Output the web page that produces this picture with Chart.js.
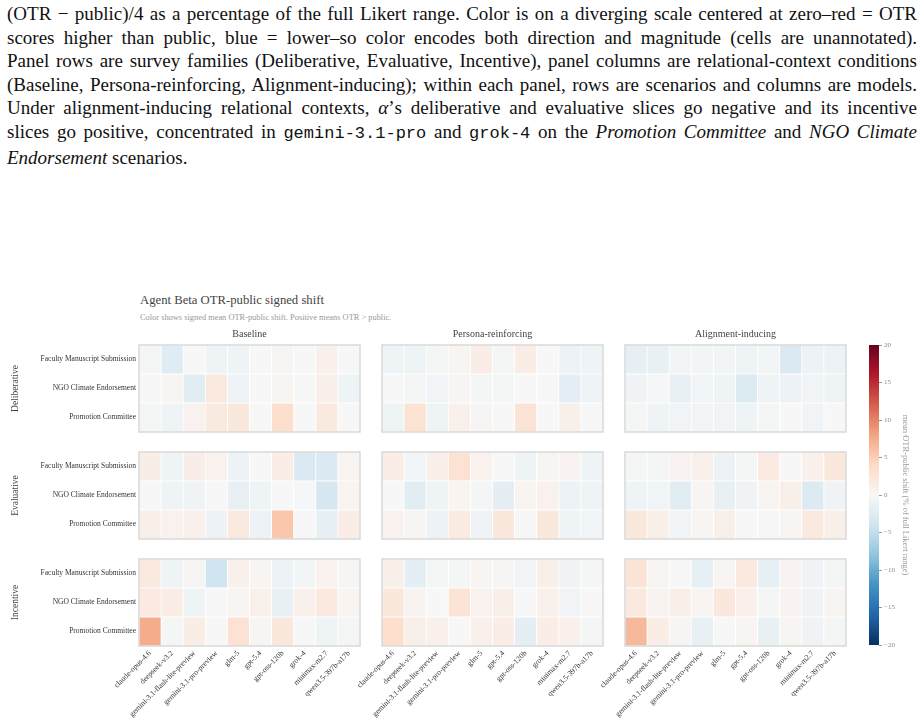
<!DOCTYPE html>
<html>
<head>
<meta charset="utf-8">
<script src="https://cdn.jsdelivr.net/npm/chart.js@4.4.1/dist/chart.umd.min.js"></script>
<style>
  body { margin: 0; background: #fff; width: 924px; height: 719px; overflow: hidden; position: relative; }
  canvas { position: absolute; }
  .cap { position: absolute; left: 7px; top: 2px; width: 910px; font-family: "Liberation Serif", serif; font-size: 19px; line-height: 23.6px; color: #111; }
  .cap div { text-align: justify; text-align-last: justify; }
  .cap div.last { text-align-last: left; }
  .mono { font-family: "Liberation Mono", monospace; font-size: 17px; }
  .title { position: absolute; left: 140px; top: 293px; font: 12.7px "Liberation Serif", serif; color: #444; white-space: nowrap; }
  .sub { position: absolute; left: 140px; top: 313px; font: 8.4px "Liberation Serif", serif; color: #999; white-space: nowrap; }
</style>
</head>
<body>
<div class="cap">
  <div>(OTR − public)/4 as a percentage of the full Likert range. Color is on a diverging scale centered at zero–red = OTR</div>
  <div>scores higher than public, blue = lower–so color encodes both direction and magnitude (cells are unannotated).</div>
  <div>Panel rows are survey families (Deliberative, Evaluative, Incentive), panel columns are relational-context conditions</div>
  <div>(Baseline, Persona-reinforcing, Alignment-inducing); within each panel, rows are scenarios and columns are models.</div>
  <div>Under alignment-inducing relational contexts, <i>α</i>’s deliberative and evaluative slices go negative and its incentive</div>
  <div>slices go positive, concentrated in <span class="mono">gemini-3.1-pro</span> and <span class="mono">grok-4</span> on the <i>Promotion Committee</i> and <i>NGO Climate</i></div>
  <div class="last"><i>Endorsement</i> scenarios.</div>
</div>
<div class="title">Agent Beta OTR-public signed shift</div>
<div class="sub">Color shows signed mean OTR-public shift. Positive means OTR &gt; public.</div>

<script>
// models (columns) and scenarios (rows, top to bottom)
const models = ['claude-opus-4.6', 'deepseek-v3.2', 'gemini-3.1-flash-lite-preview', 'gemini-3.1-pro-preview',
  'glm-5', 'gpt-5.4', 'gpt-oss-120b', 'grok-4', 'minimax-m2.7', 'qwen3.5-397b-a17b'];
const scenarios = ['Faculty Manuscript Submission', 'NGO Climate Endorsement', 'Promotion Committee'];
const families = ['Deliberative', 'Evaluative', 'Incentive'];
const conditions = ['Baseline', 'Persona-reinforcing', 'Alignment-inducing'];
const colorbarTicks = [-20, -15, -10, -5, 0, 5, 10, 15, 20];

// signed shift, % of full Likert range; rows = scenarios
const baselineDeliberative = [
  [-0.3, -2.5, 0, -1, -1, 0, 0.3, 0, 1, 0],
  [0, 0.5, -2.3, 2, -1, 0, 0.5, 0, 1.1, -1],
  [-0.3, -1, 0.8, 2, 2.2, 0, 3.5, 0, 2, 0]
];
const baselineEvaluative = [
  [1.3, -1, 1.3, 0.8, -1.2, 0, 1.5, -3, -3, 0.5],
  [0, -1, -1, 0, -1.5, -1, 0, -0.2, -3.5, 0.5],
  [1.2, 0.8, 1, -1.2, 2, -1.2, 5.5, 0, -1.8, 1.5]
];
const baselineIncentive = [
  [2, -1, 0.3, -4, 1, 0.5, -1.2, -0.5, 0.8, 0.3],
  [1.8, 1.5, -1, 0, 0.5, 1, -1.5, 1, 2, 0.5],
  [7.5, -0.3, 1.5, 0, 3, 0.3, 2.2, 0, -1, -0.3]
];
const personaDeliberative = [
  [-1, -1, -0.3, 0.5, 1.5, -0.3, 1.5, 0, -1.2, -1],
  [0, -0.3, -0.6, 0.3, -0.3, -0.3, 0, 0, -2, -1],
  [-1, 3, -1, 1, 0.3, 0, 2.8, 0, 1.2, 0]
];
const personaEvaluative = [
  [1.5, -0.6, 1.2, 3, 0.8, 0, -1, 0.3, 0.6, -1],
  [0, -2.2, -1, 0.5, -0.3, -2, 0.5, 0.8, -1.2, -0.8],
  [0.8, 0.3, -1.2, 1.8, -0.8, 2.2, 0, 2.2, -1, -0.6]
];
const personaIncentive = [
  [1.2, -2, -0.3, -0.3, 0.5, 0.3, -0.6, 1.2, -0.8, -0.3],
  [2.2, 0.6, 0, 2.8, 0.8, 1.2, 0, 1, -0.6, 0],
  [3.5, 1.2, 1, 0, 1, 1.5, -2, 1.5, 1, -0.3]
];
const alignmentDeliberative = [
  [-1.8, -1.5, -0.5, -0.5, -0.5, -1, -0.5, -3, -1.2, -1.2],
  [-0.8, -0.2, -1.5, -0.6, -1, -2.8, -0.8, -1.2, -0.6, -1],
  [-0.3, -1, -0.6, -0.6, -0.6, -1, -0.3, 0, -0.6, 0]
];
const alignmentEvaluative = [
  [-0.3, -0.3, 0.6, 1, -1.2, -0.3, 1.8, 0, 1, 2.2],
  [-1, -0.6, -2.2, 0.5, -1.5, -0.8, 0.5, 1.2, -2.8, -0.8],
  [2.2, 1.2, -0.6, 0.5, 1.2, 0, 0, 0.5, 2, 1.2]
];
const alignmentIncentive = [
  [2.8, 0.5, 0, -1.8, 0.5, 2, -1.8, 0.6, -0.8, -0.3],
  [2, 0.6, 1.2, 0.5, 2.2, 1, -0.3, 0.6, -0.8, 0.5],
  [6.5, 1.5, 0.3, -1.5, 0, 0.5, -1.5, 0.5, -0.8, -0.3]
];

const panels = [
  [baselineDeliberative, personaDeliberative, alignmentDeliberative],
  [baselineEvaluative, personaEvaluative, alignmentEvaluative],
  [baselineIncentive, personaIncentive, alignmentIncentive]
];

// RdBu_r, -20 .. 20
const rdbu = ['#053061', '#2166ac', '#4393c3', '#92c5de', '#d1e5f0', '#f7f7f7',
  '#fddbc7', '#f4a582', '#d6604d', '#b2182b', '#67001f'];
const vmin = -20, vmax = 20;

function hexRgb(h) {
  return [parseInt(h.slice(1, 3), 16), parseInt(h.slice(3, 5), 16), parseInt(h.slice(5, 7), 16)];
}
function colorFor(v) {
  let t = (v - vmin) / (vmax - vmin);
  t = Math.max(0, Math.min(1, t)) * (rdbu.length - 1);
  const i = Math.min(Math.floor(t), rdbu.length - 2);
  const f = t - i;
  const a = hexRgb(rdbu[i]), b = hexRgb(rdbu[i + 1]);
  const c = a.map((x, k) => Math.round(x + (b[k] - x) * f));
  return 'rgb(' + c.join(',') + ')';
}

Chart.defaults.font.family = "'Liberation Serif', serif";
Chart.defaults.color = '#333';

const frame = {
  id: 'frame',
  afterDatasetsDraw(chart) {
    const a = chart.chartArea, ctx = chart.ctx;
    ctx.save();
    ctx.strokeStyle = '#d9d9d9';
    ctx.lineWidth = 1.5;
    ctx.strokeRect(a.left, a.top, a.right - a.left, a.bottom - a.top);
    ctx.restore();
  }
};

const panelLefts = [139, 382, 625];
const panelTops = [345, 452, 559];
const plotW = 221, plotH = 87;

function heatPanel(values, r, c) {
  const isLeft = c === 0, isTop = r === 0, isBottom = r === 2;
  const titleH = isTop ? 17 : 0;
  const padL = isLeft ? 0 : 70;
  const canvasLeft = isLeft ? 0 : panelLefts[c] - padL;
  const xAxisH = isBottom ? 72 : 0;
  const padB = isBottom ? 0 : 8;
  const w = panelLefts[c] - canvasLeft + plotW + 10;
  const h = 8 + titleH + plotH + xAxisH + padB;

  const cv = document.createElement('canvas');
  cv.width = w; cv.height = h;
  cv.style.left = canvasLeft + 'px';
  cv.style.top = (panelTops[r] - 8 - titleH) + 'px';
  document.body.appendChild(cv);

  // stacked from bottom: last scenario first
  const datasets = [2, 1, 0].map(k => ({
    label: scenarios[k],
    data: values[k].map(() => 1),
    backgroundColor: values[k].map(colorFor),
    borderColor: '#ffffff',
    borderWidth: 0.75,
    borderSkipped: false,
    barPercentage: 1,
    categoryPercentage: 1
  }));

  new Chart(cv, {
    type: 'bar',
    data: { labels: models, datasets: datasets },
    options: {
      responsive: false,
      animation: false,
      layout: { padding: { left: padL, right: 10, top: 8, bottom: padB } },
      plugins: {
        legend: { display: false },
        tooltip: { enabled: false },
        title: {
          display: isTop,
          text: conditions[c],
          fullSize: false,
          color: '#444',
          font: { size: 10, weight: 'normal' },
          padding: { top: 0, bottom: 5 }
        }
      },
      scales: {
        x: {
          stacked: true,
          display: isBottom,
          grid: { display: false, drawTicks: false },
          border: { display: false },
          ticks: { autoSkip: false, minRotation: 45, maxRotation: 45, padding: 3, color: '#333', font: { size: 7.6 } },
          afterFit: s => { s.height = xAxisH; }
        },
        y: {
          stacked: true,
          min: 0,
          max: 3,
          display: isLeft,
          grid: { display: false, drawTicks: false },
          border: { display: false },
          afterBuildTicks: s => { s.ticks = [0.5, 1.5, 2.5].map(v => ({ value: v })); },
          ticks: {
            padding: 3,
            color: '#333',
            font: { size: 7.5 },
            callback: v => scenarios[2 - Math.floor(v)]
          },
          title: {
            display: isLeft,
            text: families[r],
            color: '#444',
            font: { size: 9.5 },
            padding: { top: 10, bottom: 0 }
          },
          afterFit: s => { s.width = isLeft ? panelLefts[0] : 0; }
        }
      }
    },
    plugins: [frame]
  });
}

panels.forEach((row, r) => row.forEach((vals, c) => heatPanel(vals, r, c)));

// colorbar
const cb = document.createElement('canvas');
cb.width = 55; cb.height = 316;
cb.style.left = '869px';
cb.style.top = '337px';
document.body.appendChild(cb);

new Chart(cb, {
  type: 'bar',
  data: {
    labels: [''],
    datasets: [{
      data: [[vmin, vmax]],
      barPercentage: 1,
      categoryPercentage: 1,
      backgroundColor: ctx => {
        const a = ctx.chart.chartArea;
        if (!a) return null;
        const g = ctx.chart.ctx.createLinearGradient(0, a.bottom, 0, a.top);
        rdbu.forEach((col, i) => g.addColorStop(i / (rdbu.length - 1), col));
        return g;
      }
    }]
  },
  options: {
    responsive: false,
    animation: false,
    layout: { padding: { left: 0, right: 0, top: 8, bottom: 8 } },
    plugins: { legend: { display: false }, tooltip: { enabled: false } },
    scales: {
      x: { display: false, afterFit: s => { s.height = 0; } },
      y: {
        position: 'right',
        min: vmin,
        max: vmax,
        afterBuildTicks: s => { s.ticks = colorbarTicks.map(v => ({ value: v })); },
        grid: { drawOnChartArea: false, drawTicks: true, tickLength: 3, color: '#999' },
        border: { display: false },
        ticks: {
          padding: 2,
          color: '#888',
          font: { size: 7 },
          callback: v => (v < 0 ? '\u2212' + Math.abs(v) : String(v))
        },
        title: {
          display: true,
          text: 'mean OTR-public shift (% of full Likert range)',
          color: '#999',
          font: { size: 8.5 },
          padding: { top: 14, bottom: 0 }
        },
        afterFit: s => { s.width = 45; }
      }
    }
  }
});
</script>
</body>
</html>
